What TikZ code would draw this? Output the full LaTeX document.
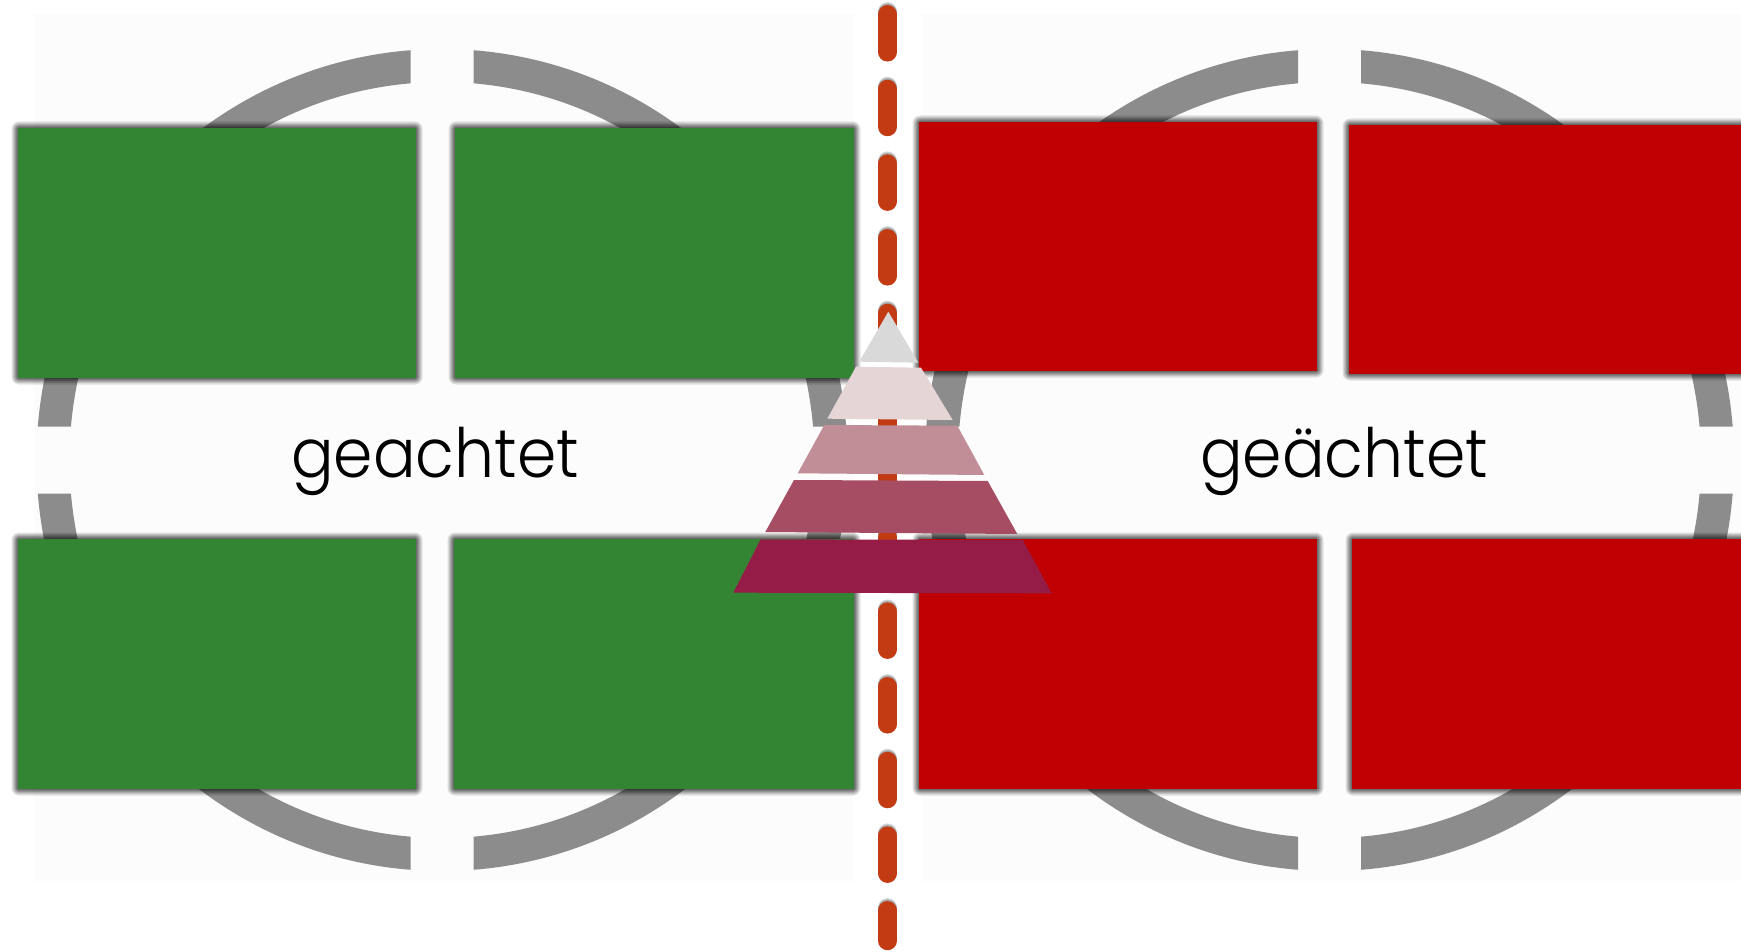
\documentclass[tikz,border=0pt]{standalone}
\usepackage{fontspec}
\setmainfont{Poppins}[UprightFont=* Light,FakeStretch=0.93]
\definecolor{panelc}{HTML}{FCFCFC}
\definecolor{ringc}{HTML}{8C8C8C}
\definecolor{greenc}{HTML}{348533}
\definecolor{redc}{HTML}{C00000}
\definecolor{dashc}{HTML}{C23B12}
\definecolor{tri1}{HTML}{D9D9D9}
\definecolor{tri2}{HTML}{E6D5D7}
\definecolor{tri3}{HTML}{C18D96}
\definecolor{tri4}{HTML}{A64D63}
\definecolor{tri5}{HTML}{951C46}
\tikzset{
  panel/.style={fill=panelc},
  ring/.style={draw=ringc,line width=33pt},
  label/.style={font=\fontsize{68}{68}\selectfont,text=black,inner sep=0pt,anchor=base},
  divider/.style={draw=dashc,line width=19pt,line cap=round,dash pattern=on 37.5pt off 37.17pt},
  pyr/.style={draw=none}
}
\newcommand{\shadrect}[5]{%
  \foreach \d in {6.5,5.2,4.2,3.2,2.4,1.6,0.8}{
    \fill[black,opacity=0.115,rounded corners=\d pt+1pt] (#1-\d,#2-\d) rectangle (#3+\d,#4+\d);
  }
  \fill[#5] (#1,#2) rectangle (#3,#4);
}
\newcommand{\ringat}[2]{%
  \begin{scope}[shift={(#1,460)}]
    \clip (-420,-430) rectangle (-31.5,-33.5)
          (31.5,-430) rectangle (420,-33.5)
          (-420,33.5) rectangle (-31.5,430)
          (31.5,33.5) rectangle (420,430);
    \draw[ring] (0,0) ellipse [x radius=#2,y radius=394.5];
  \end{scope}
}
\begin{document}
\begin{tikzpicture}[x=1pt,y=-1pt]
\useasboundingbox (0,0) rectangle (1741,952);
\clip (0,0) rectangle (1741,952);
\fill[white] (0,0) rectangle (1741,952);
\fill[panel] (34,14) rectangle (854,881);
\fill[panel] (922,14) rectangle (1741,881);
\ringat{442}{389}
\ringat{1329.5}{388}
\foreach \s/\o in {0.14/3,0.14/2,0.14/1}{
  \draw[divider,draw=black,opacity=\s,yshift=\o pt] (887.5,14.55) -- (887.5,940.7);
}
\draw[divider] (887.5,14.55) -- (887.5,940.7);
\shadrect{18}{128}{416}{378}{greenc}
\shadrect{455}{128}{854}{378}{greenc}
\shadrect{18}{539}{416}{789}{greenc}
\shadrect{454}{539}{854}{789}{greenc}
\shadrect{919}{122}{1317}{371}{redc}
\shadrect{1349}{125}{1760}{374}{redc}
\shadrect{919}{539}{1317}{789}{redc}
\shadrect{1352}{539}{1760}{789}{redc}
\node[label] (left) at (435,477) {geachtet};
\node[label] (right) at (1344,477) {geächtet};
\fill[tri1,pyr] (888.3,311.7) -- (918.3,362.7) -- (859.3,361.7) -- cycle;
\fill[tri2,pyr] (856,366.7) -- (921,367.7) -- (952.7,420) -- (827.3,418.7) -- cycle;
\fill[tri3,pyr] (824.3,425) -- (957.3,425.7) -- (984.3,475) -- (797.7,473.3) -- cycle;
\fill[tri4,pyr] (794,480) -- (987.7,481) -- (1017.3,534) -- (765.3,532) -- cycle;
\fill[tri5,pyr] (760.7,539.3) -- (1022.7,540) -- (1051.7,593.3) -- (733.3,592.7) -- cycle;
\end{tikzpicture}
\end{document}
